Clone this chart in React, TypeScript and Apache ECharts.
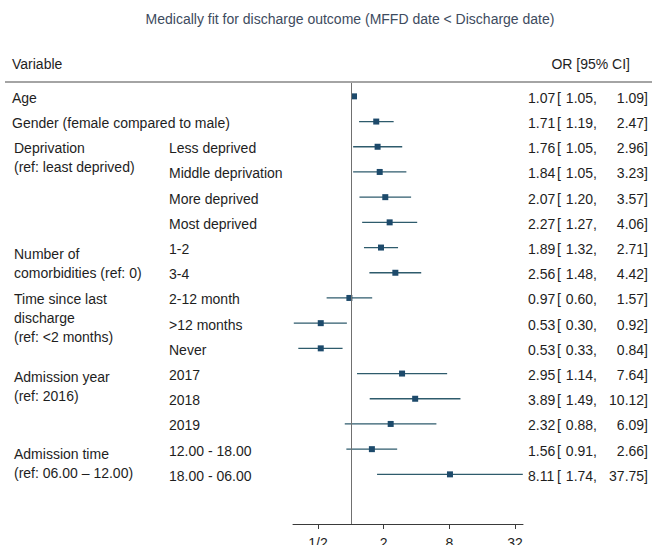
import React, { useEffect, useRef } from "react";
import * as echarts from "echarts";

const rowLabels = [
  "Age",
  "Gender (female compared to male)",
  "Less deprived",
  "Middle deprivation",
  "More deprived",
  "Most deprived",
  "1-2",
  "3-4",
  "2-12 month",
  ">12 months",
  "Never",
  "2017",
  "2018",
  "2019",
  "12.00 - 18.00",
  "18.00 - 06.00",
];
const orValues = [1.07, 1.71, 1.76, 1.84, 2.07, 2.27, 1.89, 2.56, 0.97, 0.53, 0.53, 2.95, 3.89, 2.32, 1.56, 8.11];
const ciLower = [1.05, 1.19, 1.05, 1.05, 1.2, 1.27, 1.32, 1.48, 0.6, 0.3, 0.33, 1.14, 1.49, 0.88, 0.91, 1.74];
const ciUpper = [1.09, 2.47, 2.96, 3.23, 3.57, 4.06, 2.71, 4.42, 1.57, 0.92, 0.84, 7.64, 10.12, 6.09, 2.66, 37.75];

const groupLabels = ["Deprivation\n(ref: least deprived)", "Number of\ncomorbidities (ref: 0)", "Time since last\ndischarge\n(ref: <2 months)", "Admission year\n(ref: 2016)", "Admission time\n(ref: 06.00 \u2013 12.00)"];
const groupFirstRow = [2, 6, 8, 11, 14];

const tickValues = [0.5, 2, 8, 32];
const tickLabels = ["1/2", "2", "8", "32"];
const axisMin = 0.295;
const axisMax = 37.9;

const titleText = "Medically fit for discharge outcome (MFFD date < Discharge date)";

const FONT = "'Liberation Sans', Arial, sans-serif";
const TEXT = "#1e1e1e";
// vertical pixel nudges for the group labels (layout only)
const GROUP_NUDGE = [0, 5, 0, 2, 3];

export default function App() {
  const ref = useRef<HTMLDivElement>(null);
  useEffect(() => {
    if (!ref.current) return;
    const chart = echarts.init(ref.current, undefined, { renderer: "svg" });
    const grouped = new Set<number>();
    groupFirstRow.forEach((r, g) => {
      const next = g + 1 < groupFirstRow.length ? groupFirstRow[g + 1] : rowLabels.length;
      for (let k = r; k < next; k++) grouped.add(k);
    });
    const fmt = (v: number) => v.toFixed(2);
    const rowData = rowLabels.map((_, i) => [i, Math.log2(orValues[i]), Math.log2(ciLower[i]), Math.log2(ciUpper[i])]);
    const tickLog = tickValues.map((v) => Math.log2(v));
    const txt = (text: string, x: number, y: number, align: string) => ({
      type: "text",
      x,
      y,
      style: { text, fill: TEXT, fontSize: 14, fontFamily: FONT, align, verticalAlign: "middle" },
    });

    const option: any = {
      animation: false,
      backgroundColor: "#ffffff",
      textStyle: { fontFamily: FONT },
      grid: { left: 293, right: 129, top: 83, bottom: 21, containLabel: false, outerBoundsMode: "none" },
      xAxis: {
        type: "value",
        min: Math.log2(axisMin),
        max: Math.log2(axisMax),
        splitLine: { show: false },
        axisLine: { show: true, onZero: false, lineStyle: { color: "#3a3a3a", width: 1 } },
        axisTick: { show: true, length: 5, customValues: tickLog, lineStyle: { color: "#3a3a3a" } },
        axisLabel: {
          show: true,
          customValues: tickLog,
          margin: 12,
          fontSize: 14,
          color: TEXT,
          fontFamily: FONT,
          formatter: (v: number) => {
            const idx = tickLog.findIndex((t) => Math.abs(t - v) < 1e-6);
            return idx >= 0 ? tickLabels[idx] : "";
          },
        },
      },
      yAxis: {
        type: "value",
        inverse: true,
        min: -0.53,
        max: 16.97,
        show: false,
        splitLine: { show: false },
      },
      graphic: [
        {
          type: "text",
          x: 350,
          y: 19,
          style: { text: titleText, fill: "#3d4b5e", fontSize: 14, fontFamily: FONT, align: "center", verticalAlign: "middle" },
        },
        txt("Variable", 12, 64, "left"),
        txt("OR [95% CI]", 630, 64, "right"),
        {
          type: "line",
          shape: { x1: 5, y1: 82, x2: 652, y2: 82 },
          style: { stroke: "#4a4a4a", lineWidth: 1.2 },
        },
      ],
      series: [
        {
          type: "custom",
          clip: false,
          data: rowData,
          encode: { x: [1, 2, 3], y: 0 },
          renderItem: (params: any, api: any) => {
            const i = api.value(0);
            const pE = api.coord([api.value(1), i]);
            const pL = api.coord([api.value(2), i]);
            const pH = api.coord([api.value(3), i]);
            const y = pE[1];
            const ty = y + 1.5;
            const s = 6;
            const isSub = grouped.has(i);
            return {
              type: "group",
              children: [
                {
                  type: "line",
                  shape: { x1: pL[0], y1: y, x2: pH[0], y2: y },
                  style: { stroke: "#2e5b6c", lineWidth: 1.3 },
                },
                {
                  type: "rect",
                  shape: { x: pE[0] - s / 2, y: y - s / 2, width: s, height: s },
                  style: { fill: "#1d4a6b" },
                },
                txt(rowLabels[i], isSub ? 169 : 12, ty, "left"),
                txt(fmt(orValues[i]), 528, ty, "left"),
                txt("[", 557, ty, "left"),
                txt(fmt(ciLower[i]) + ",", 597, ty, "right"),
                txt(fmt(ciUpper[i]) + "]", 648, ty, "right"),
              ],
            };
          },
          markLine: {
            silent: true,
            symbol: "none",
            label: { show: false },
            lineStyle: { color: "#707070", width: 1, type: "solid" },
            data: [{ xAxis: 0 }],
          },
        },
        {
          type: "custom",
          clip: false,
          data: groupFirstRow.map((r, g) => [g, r]),
          encode: { y: 1 },
          renderItem: (params: any, api: any) => {
            const g = api.value(0);
            const r = api.value(1);
            const p = api.coord([0, r]);
            return {
              type: "text",
              x: 14,
              y: p[1] - 8 + GROUP_NUDGE[g],
              style: {
                text: groupLabels[g],
                fill: TEXT,
                fontSize: 14,
                fontFamily: FONT,
                lineHeight: 19,
                align: "left",
                verticalAlign: "top",
              },
            };
          },
        },
      ],
    };
    chart.setOption(option);
    return () => chart.dispose();
  }, []);
  return <div ref={ref} style={{ position: "fixed", left: 0, top: 0, width: 652, height: 545 }} />;
}
